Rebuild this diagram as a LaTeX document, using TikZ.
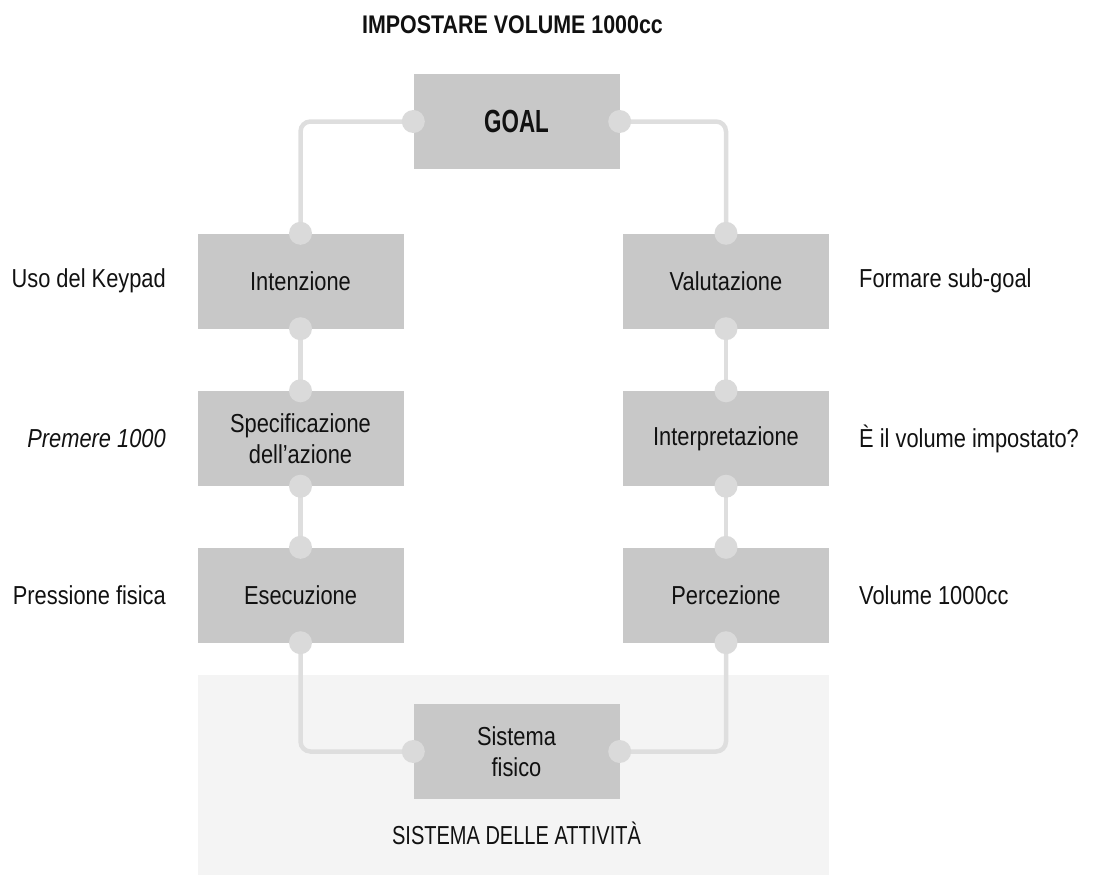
\documentclass[tikz,border=0pt]{standalone}
\usepackage{fontspec}
\setmainfont[FakeStretch=0.84]{Liberation Sans}
\newfontfamily\goalfont[FakeStretch=0.70]{Liberation Sans}
\newfontfamily\titlefont[FakeStretch=0.84]{Liberation Sans}
\newfontfamily\capsfont[FakeStretch=0.77]{Liberation Sans}
\definecolor{boxgray}{HTML}{C8C8C8}
\definecolor{dotgray}{HTML}{DADADA}
\definecolor{linegray}{HTML}{DEDEDE}
\definecolor{bandgray}{HTML}{F4F4F4}
\definecolor{ink}{HTML}{111111}
\begin{document}
\begin{tikzpicture}[x=1pt,y=-1pt,
  stage/.style={fill=boxgray, minimum width=206pt, minimum height=95pt, inner sep=0pt,
    text=ink, align=center, font=\fontsize{26}{31}\selectfont},
  conn/.style={draw=linegray, line width=4.5pt, rounded corners=10pt},
  dot/.style={fill=dotgray},
  lbl/.style={text=ink, font=\fontsize{26}{31}\selectfont, inner sep=0pt}]
\useasboundingbox (0,0) rectangle (1093,875);
% activity system band
\fill[bandgray] (198,675) rectangle (829,875);

% title
\node[text=ink, inner sep=0pt, font=\titlefont\bfseries\fontsize{25.5}{30}\selectfont] (title) at (512.5,25) {IMPOSTARE VOLUME 1000cc};

% stages
\node[stage, font=\goalfont\bfseries\fontsize{32}{36}\selectfont] (goal) at (516.5,121.5) {GOAL};
\node[stage] (int) at (300.5,281) {Intenzione};
\node[stage] (spec) at (300.5,438.5) {Specificazione\\dell’azione};
\node[stage] (ese) at (300.5,595) {Esecuzione};
\node[stage] (sis) at (516.5,751.5) {Sistema\\fisico};
\node[stage] (val) at (726,281) {Valutazione};
\node[stage] (inter) at (726,438.5) {Interpretazione};
\node[stage] (perc) at (726,595) {Percezione};

% side labels
\node[lbl, anchor=east] (l1) at (166,281) {Uso del Keypad};
\node[lbl, anchor=east] (l2) at (166,438.5) {\itshape Premere 1000};
\node[lbl, anchor=east] (l3) at (166,595) {Pressione fisica};
\node[lbl, anchor=west] (r1) at (859,281) {Formare sub-goal};
\node[lbl, anchor=west] (r2) at (859,438.5) {È il volume impostato?};
\node[lbl, anchor=west] (r3) at (859,595) {Volume 1000cc};
\node[lbl, font=\capsfont\fontsize{26}{31}\selectfont] (band) at (516.5,833) {SISTEMA DELLE ATTIVITÀ};

% connectors
\draw[conn] (goal.west) -| (int.north);
\draw[conn] (int.south) -- (spec.north);
\draw[conn] (spec.south) -- (ese.north);
\draw[conn] (ese.south) |- (sis.west);
\draw[conn] (goal.east) -| (val.north);
\draw[conn] (val.south) -- (inter.north);
\draw[conn] (inter.south) -- (perc.north);
\draw[conn] (perc.south) |- (sis.east);

% joints
\foreach \n/\a in {goal/west,goal/east,int/north,int/south,spec/north,spec/south,
                   ese/north,ese/south,sis/west,sis/east,val/north,val/south,
                   inter/north,inter/south,perc/north,perc/south}
  \fill[dot] (\n.\a) circle (11.5pt);
\end{tikzpicture}
\end{document}
